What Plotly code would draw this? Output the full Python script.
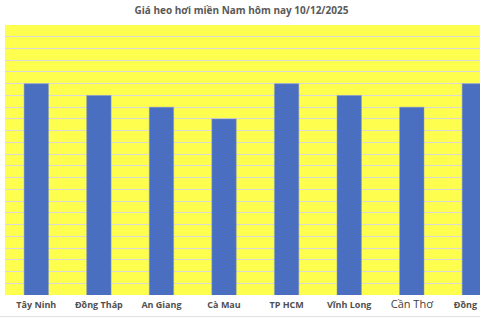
import plotly.graph_objects as go

title = "Giá heo hơi miền Nam hôm nay 10/12/2025"
provinces = ["Tây Ninh", "Đồng Tháp", "An Giang", "Cà Mau", "TP HCM", "Vĩnh Long", "Cần Thơ", "Đồng Nai"]
prices = [55, 54, 53, 52, 55, 54, 53, 55]  # nghìn đồng/kg

ticktext = []
for p in provinces:
    if p == "Cần Thơ":
        ticktext.append("<span style='font-size:11px;font-weight:normal;color:#404040'>" + p + "</span>")
    else:
        ticktext.append("<b>" + p + "</b>")

fig = go.Figure(go.Bar(
    x=list(range(len(provinces))),
    y=prices,
    marker=dict(color="#4A6FC0", line=dict(color="#8A9AB8", width=0.5)),
    width=0.39,
))

fig.update_layout(
    width=480, height=320,
    margin=dict(l=5, r=0, t=25, b=25, autoexpand=False),
    paper_bgcolor="white",
    plot_bgcolor="#FEFE4E",
    showlegend=False,
    title=dict(text="<b>" + title + "</b>", x=0.503, xanchor="center", y=0.968, yanchor="middle",
               font=dict(family="Open Sans", size=10, color="#595959")),
    xaxis=dict(
        range=[-0.5, 7.09],
        automargin=False,
        tickmode="array",
        tickvals=list(range(len(provinces))),
        ticktext=ticktext,
        tickfont=dict(family="Open Sans", size=9, color="#505050"),
        ticklabeloverflow="allow",
        ticklabelstandoff=3,
        showgrid=False, zeroline=False, ticks="", showline=False,
    ),
    yaxis=dict(
        range=[37, 60],
        dtick=1,
        automargin=False,
        showticklabels=False,
        showgrid=True, gridcolor="#D9D9D9", gridwidth=1,
        zeroline=False, showline=False, ticks="",
    ),
)

# spreadsheet cell borders below chart
fig.add_shape(type="line", xref="paper", yref="paper", x0=-0.02, x1=1.0, y0=-0.08, y1=-0.08,
              line=dict(color="#E0E0E0", width=1))

fig.write_html("out.html")
